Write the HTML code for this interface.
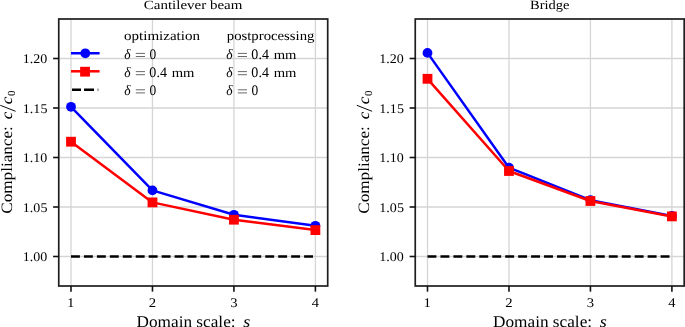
<!DOCTYPE html>
<html><head><meta charset="utf-8"><style>
html,body{margin:0;padding:0;background:#fff;}
svg{display:block;will-change:transform;}
text{font-family:"Liberation Serif",serif;fill:#000;font-kerning:none;text-rendering:geometricPrecision;}
</style></head><body>
<svg width="685" height="327" viewBox="0 0 685 327">
<rect width="685" height="327" fill="#fff"/>
<g><g stroke="#d5d5d5" stroke-width="1.3"><line x1="71" y1="19.0" x2="71" y2="286.0"/><line x1="152.47" y1="19.0" x2="152.47" y2="286.0"/><line x1="233.93" y1="19.0" x2="233.93" y2="286.0"/><line x1="315.4" y1="19.0" x2="315.4" y2="286.0"/><line x1="58.75" y1="58.5" x2="327.7" y2="58.5"/><line x1="58.75" y1="108" x2="327.7" y2="108"/><line x1="58.75" y1="157.5" x2="327.7" y2="157.5"/><line x1="58.75" y1="207" x2="327.7" y2="207"/><line x1="58.75" y1="256.5" x2="327.7" y2="256.5"/></g><line x1="71.0" y1="256.5" x2="315.4" y2="256.5" stroke="#000" stroke-width="2.5" stroke-dasharray="8.9 4.05"/><polyline points="71,106.8 152.47,190.4 233.93,214.8 315.4,225.8" fill="none" stroke="#0000ff" stroke-width="2.5" stroke-linejoin="round"/><circle cx="71" cy="106.8" r="4.9" fill="#0000ff"/><circle cx="152.47" cy="190.4" r="4.9" fill="#0000ff"/><circle cx="233.93" cy="214.8" r="4.9" fill="#0000ff"/><circle cx="315.4" cy="225.8" r="4.9" fill="#0000ff"/><polyline points="71,141.7 152.47,202.4 233.93,219.7 315.4,230.1" fill="none" stroke="#ff0000" stroke-width="2.5" stroke-linejoin="round"/><rect x="66.1" y="136.8" width="9.8" height="9.8" fill="#ff0000"/><rect x="147.57" y="197.5" width="9.8" height="9.8" fill="#ff0000"/><rect x="229.03" y="214.8" width="9.8" height="9.8" fill="#ff0000"/><rect x="310.5" y="225.2" width="9.8" height="9.8" fill="#ff0000"/><rect x="58.75" y="19.0" width="268.95" height="267" fill="none" stroke="#1e1e1e" stroke-width="1.7"/><g stroke="#111" stroke-width="1.6"><line x1="71" y1="286.0" x2="71" y2="291.65"/><line x1="152.47" y1="286.0" x2="152.47" y2="291.65"/><line x1="233.93" y1="286.0" x2="233.93" y2="291.65"/><line x1="315.4" y1="286.0" x2="315.4" y2="291.65"/><line x1="53.1" y1="58.5" x2="58.75" y2="58.5"/><line x1="53.1" y1="108" x2="58.75" y2="108"/><line x1="53.1" y1="157.5" x2="58.75" y2="157.5"/><line x1="53.1" y1="207" x2="58.75" y2="207"/><line x1="53.1" y1="256.5" x2="58.75" y2="256.5"/></g><text x="22.87" y="261.4" font-size="13.2" textLength="24.51" lengthAdjust="spacingAndGlyphs">1.00</text><text x="22.87" y="211.9" font-size="13.2" textLength="24.53" lengthAdjust="spacingAndGlyphs">1.05</text><text x="22.87" y="162.4" font-size="13.2" textLength="24.51" lengthAdjust="spacingAndGlyphs">1.10</text><text x="22.87" y="112.9" font-size="13.2" textLength="24.53" lengthAdjust="spacingAndGlyphs">1.15</text><text x="22.87" y="63.4" font-size="13.2" textLength="24.51" lengthAdjust="spacingAndGlyphs">1.20</text><text x="67.07" y="306.7" font-size="13.2" textLength="7.45" lengthAdjust="spacingAndGlyphs">1</text><text x="148.88" y="306.7" font-size="13.2" textLength="7.35" lengthAdjust="spacingAndGlyphs">2</text><text x="230.2" y="306.7" font-size="13.2" textLength="7.33" lengthAdjust="spacingAndGlyphs">3</text><text x="311.75" y="306.7" font-size="13.2" textLength="7.25" lengthAdjust="spacingAndGlyphs">4</text><text x="143.79" y="9" font-size="12.6" textLength="98.65" lengthAdjust="spacingAndGlyphs">Cantilever beam</text><text x="136.5" y="327" font-size="16.4" textLength="99.09" lengthAdjust="spacingAndGlyphs">Domain scale:</text><text x="243.38" y="327" font-size="16.4" font-style="italic" textLength="7.07" lengthAdjust="spacingAndGlyphs">s</text><text transform="translate(12.3,213) rotate(-90)" x="-0.7" y="0" font-size="15.8" textLength="87.49" lengthAdjust="spacingAndGlyphs">Compliance:</text><text transform="translate(12.2,118.7) rotate(-90)" x="-0.52" y="0" font-size="15.8" font-style="italic" textLength="7.5" lengthAdjust="spacingAndGlyphs">c</text><path d="M0.3 105.3L15.6 111.3" stroke="#000" stroke-width="0.95"/><text transform="translate(12.2,103.7) rotate(-90)" x="-0.53" y="0" font-size="15.8" font-style="italic" textLength="7.61" lengthAdjust="spacingAndGlyphs">c</text><text transform="translate(15,95.5) rotate(-90)" x="-0.41" y="0" font-size="10.8" textLength="5.43" lengthAdjust="spacingAndGlyphs">0</text><line x1="71" y1="53.25" x2="99.6" y2="53.25" stroke="#0000ff" stroke-width="2.5"/><circle cx="85.3" cy="53.3" r="4.9" fill="#0000ff"/><line x1="71" y1="71.3" x2="99.6" y2="71.3" stroke="#ff0000" stroke-width="2.5"/><rect x="80.15" y="66.8" width="9.8" height="9.8" fill="#ff0000"/><line x1="72" y1="89.7" x2="98.3" y2="89.7" stroke="#000" stroke-width="2.5" stroke-dasharray="9 3 10.05 3.65"/><text x="124.03" y="39.85" font-size="13.3" textLength="76" lengthAdjust="spacingAndGlyphs">optimization</text><text x="226.76" y="39.85" font-size="13.3" textLength="87.72" lengthAdjust="spacingAndGlyphs">postprocessing</text><text x="124.2" y="58.5" font-size="14.5" font-style="italic" textLength="6.32" lengthAdjust="spacingAndGlyphs">δ</text><path d="M135.8 53.4H145M135.8 56.5H145" stroke="#2a2a2a" stroke-width="0.7" fill="none"/><text x="149.39" y="58.5" font-size="14.5" textLength="6.72" lengthAdjust="spacingAndGlyphs">0</text><text x="226.2" y="58.5" font-size="14.5" font-style="italic" textLength="6.32" lengthAdjust="spacingAndGlyphs">δ</text><path d="M237.8 53.4H247M237.8 56.5H247" stroke="#2a2a2a" stroke-width="0.7" fill="none"/><text x="251.37" y="58.5" font-size="14.5" textLength="17.55" lengthAdjust="spacingAndGlyphs">0.4</text><text x="273.69" y="58.5" font-size="13.3" textLength="22.74" lengthAdjust="spacingAndGlyphs">mm</text><text x="124.2" y="76.7" font-size="14.5" font-style="italic" textLength="6.32" lengthAdjust="spacingAndGlyphs">δ</text><path d="M135.8 71.6H145M135.8 74.7H145" stroke="#2a2a2a" stroke-width="0.7" fill="none"/><text x="149.37" y="76.7" font-size="14.5" textLength="17.55" lengthAdjust="spacingAndGlyphs">0.4</text><text x="171.69" y="76.7" font-size="13.3" textLength="22.74" lengthAdjust="spacingAndGlyphs">mm</text><text x="226.2" y="76.7" font-size="14.5" font-style="italic" textLength="6.32" lengthAdjust="spacingAndGlyphs">δ</text><path d="M237.8 71.6H247M237.8 74.7H247" stroke="#2a2a2a" stroke-width="0.7" fill="none"/><text x="251.37" y="76.7" font-size="14.5" textLength="17.55" lengthAdjust="spacingAndGlyphs">0.4</text><text x="273.69" y="76.7" font-size="13.3" textLength="22.74" lengthAdjust="spacingAndGlyphs">mm</text><text x="124.2" y="94.9" font-size="14.5" font-style="italic" textLength="6.32" lengthAdjust="spacingAndGlyphs">δ</text><path d="M135.8 89.8H145M135.8 92.9H145" stroke="#2a2a2a" stroke-width="0.7" fill="none"/><text x="149.39" y="94.9" font-size="14.5" textLength="6.72" lengthAdjust="spacingAndGlyphs">0</text><text x="226.2" y="94.9" font-size="14.5" font-style="italic" textLength="6.32" lengthAdjust="spacingAndGlyphs">δ</text><path d="M237.8 89.8H247M237.8 92.9H247" stroke="#2a2a2a" stroke-width="0.7" fill="none"/><text x="251.39" y="94.9" font-size="14.5" textLength="6.72" lengthAdjust="spacingAndGlyphs">0</text></g>
<g transform="translate(356.5,0)"><g stroke="#d5d5d5" stroke-width="1.3"><line x1="71" y1="19.0" x2="71" y2="286.0"/><line x1="152.47" y1="19.0" x2="152.47" y2="286.0"/><line x1="233.93" y1="19.0" x2="233.93" y2="286.0"/><line x1="315.4" y1="19.0" x2="315.4" y2="286.0"/><line x1="58.75" y1="58.5" x2="327.7" y2="58.5"/><line x1="58.75" y1="108" x2="327.7" y2="108"/><line x1="58.75" y1="157.5" x2="327.7" y2="157.5"/><line x1="58.75" y1="207" x2="327.7" y2="207"/><line x1="58.75" y1="256.5" x2="327.7" y2="256.5"/></g><line x1="71.0" y1="256.5" x2="315.4" y2="256.5" stroke="#000" stroke-width="2.5" stroke-dasharray="8.9 4.05"/><polyline points="71,52.9 152.47,167.7 233.93,200.2 315.4,215.9" fill="none" stroke="#0000ff" stroke-width="2.5" stroke-linejoin="round"/><circle cx="71" cy="52.9" r="4.9" fill="#0000ff"/><circle cx="152.47" cy="167.7" r="4.9" fill="#0000ff"/><circle cx="233.93" cy="200.2" r="4.9" fill="#0000ff"/><circle cx="315.4" cy="215.9" r="4.9" fill="#0000ff"/><polyline points="71,78.8 152.47,171 233.93,201 315.4,216.4" fill="none" stroke="#ff0000" stroke-width="2.5" stroke-linejoin="round"/><rect x="66.1" y="73.9" width="9.8" height="9.8" fill="#ff0000"/><rect x="147.57" y="166.1" width="9.8" height="9.8" fill="#ff0000"/><rect x="229.03" y="196.1" width="9.8" height="9.8" fill="#ff0000"/><rect x="310.5" y="211.5" width="9.8" height="9.8" fill="#ff0000"/><rect x="58.75" y="19.0" width="268.95" height="267" fill="none" stroke="#1e1e1e" stroke-width="1.7"/><g stroke="#111" stroke-width="1.6"><line x1="71" y1="286.0" x2="71" y2="291.65"/><line x1="152.47" y1="286.0" x2="152.47" y2="291.65"/><line x1="233.93" y1="286.0" x2="233.93" y2="291.65"/><line x1="315.4" y1="286.0" x2="315.4" y2="291.65"/><line x1="53.1" y1="58.5" x2="58.75" y2="58.5"/><line x1="53.1" y1="108" x2="58.75" y2="108"/><line x1="53.1" y1="157.5" x2="58.75" y2="157.5"/><line x1="53.1" y1="207" x2="58.75" y2="207"/><line x1="53.1" y1="256.5" x2="58.75" y2="256.5"/></g><text x="22.87" y="261.4" font-size="13.2" textLength="24.51" lengthAdjust="spacingAndGlyphs">1.00</text><text x="22.87" y="211.9" font-size="13.2" textLength="24.53" lengthAdjust="spacingAndGlyphs">1.05</text><text x="22.87" y="162.4" font-size="13.2" textLength="24.51" lengthAdjust="spacingAndGlyphs">1.10</text><text x="22.87" y="112.9" font-size="13.2" textLength="24.53" lengthAdjust="spacingAndGlyphs">1.15</text><text x="22.87" y="63.4" font-size="13.2" textLength="24.51" lengthAdjust="spacingAndGlyphs">1.20</text><text x="67.07" y="306.7" font-size="13.2" textLength="7.45" lengthAdjust="spacingAndGlyphs">1</text><text x="148.88" y="306.7" font-size="13.2" textLength="7.35" lengthAdjust="spacingAndGlyphs">2</text><text x="230.2" y="306.7" font-size="13.2" textLength="7.33" lengthAdjust="spacingAndGlyphs">3</text><text x="311.75" y="306.7" font-size="13.2" textLength="7.25" lengthAdjust="spacingAndGlyphs">4</text><text x="173.58" y="9" font-size="12.6" textLength="39.42" lengthAdjust="spacingAndGlyphs">Bridge</text><text x="136.5" y="327" font-size="16.4" textLength="99.09" lengthAdjust="spacingAndGlyphs">Domain scale:</text><text x="243.38" y="327" font-size="16.4" font-style="italic" textLength="7.07" lengthAdjust="spacingAndGlyphs">s</text><text transform="translate(12.3,213) rotate(-90)" x="-0.7" y="0" font-size="15.8" textLength="87.49" lengthAdjust="spacingAndGlyphs">Compliance:</text><text transform="translate(12.2,118.7) rotate(-90)" x="-0.52" y="0" font-size="15.8" font-style="italic" textLength="7.5" lengthAdjust="spacingAndGlyphs">c</text><path d="M0.3 105.3L15.6 111.3" stroke="#000" stroke-width="0.95"/><text transform="translate(12.2,103.7) rotate(-90)" x="-0.53" y="0" font-size="15.8" font-style="italic" textLength="7.61" lengthAdjust="spacingAndGlyphs">c</text><text transform="translate(15,95.5) rotate(-90)" x="-0.41" y="0" font-size="10.8" textLength="5.43" lengthAdjust="spacingAndGlyphs">0</text></g>
</svg>
</body></html>
